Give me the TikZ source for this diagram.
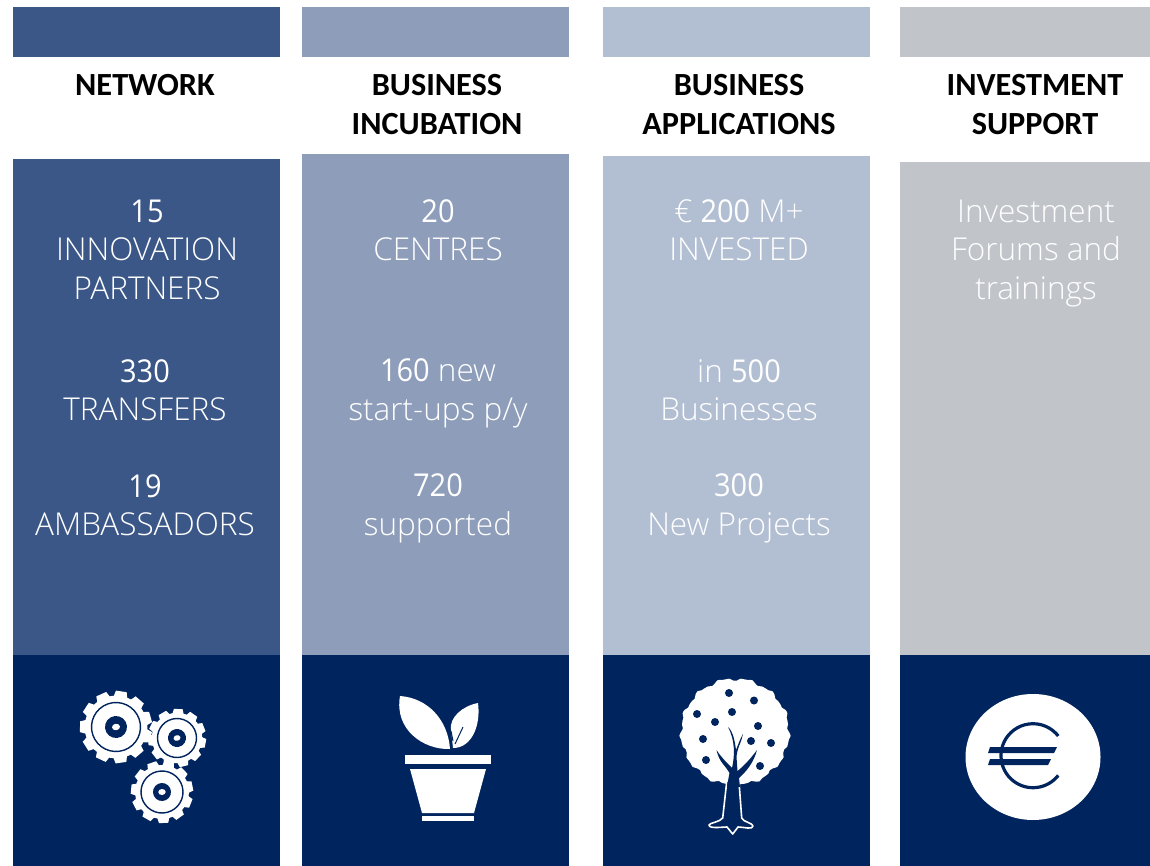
\documentclass[tikz,border=0pt]{standalone}
\usepackage{fontspec}
\setmainfont{Open Sans Light}
\newfontfamily\numfont{Open Sans}[FakeStretch=0.92]
\newfontfamily\headfont{Carlito}[BoldFont=Carlito Bold]
\definecolor{colA}{HTML}{3B5787}
\definecolor{colB}{HTML}{8D9DBA}
\definecolor{colC}{HTML}{B2BED2}
\definecolor{colD}{HTML}{C1C4C9}
\definecolor{navy}{HTML}{00245D}
\tikzset{
  body/.style={text=white,font=\fontsize{31.5}{38.5}\selectfont,align=center,inner sep=0pt,anchor=center},
  head/.style={text=black,font=\headfont\bfseries\fontsize{32.3}{38.5}\selectfont,align=center,inner sep=0pt,anchor=center}
}
\newcommand{\num}[1]{{\numfont #1}}
% gear: cx cy outer ring hub hole rotation
\newcommand{\gear}[7]{%
  \begin{scope}[shift={(#1,#2)},rotate=#7]
    \fill[white] (0,0) circle (#3*0.87);
    \foreach \a in {0,32.7,...,340}{
      \fill[white,rotate=\a] (-#3*0.2,#3*0.8) -- (-#3*0.15,#3) -- (#3*0.15,#3) -- (#3*0.2,#3*0.8) -- cycle;
    }
    \draw[navy,line width=1.4] (0,0) circle (#4);
    \fill[navy] (0,0) circle (#5);
    \fill[white] (0,0) ellipse (#6*1.25 and #6);
  \end{scope}}
\begin{document}
\begin{tikzpicture}[x=1pt,y=-1pt]
\useasboundingbox (0,0) rectangle (1150,866);
\fill[white] (0,0) rectangle (1150,866);
% columns
\fill[colA] (13,7) rectangle (280,57);
\fill[colA] (13,159) rectangle (280,655);
\fill[navy] (13,655) rectangle (280,866);
\fill[colB] (302,7) rectangle (569,57);
\fill[colB] (302,154) rectangle (569,655);
\fill[navy] (302,655) rectangle (569,866);
\fill[colC] (603,7) rectangle (870,57);
\fill[colC] (603,156) rectangle (870,655);
\fill[navy] (603,655) rectangle (870,866);
\fill[colD] (900,7) rectangle (1150,57);
\fill[colD] (900,162) rectangle (1150,655);
\fill[navy] (900,655) rectangle (1150,866);
% headings
\node[head] (h1) at (145,85) {NETWORK};
\node[head] (h2) at (437,104.5) {BUSINESS\\INCUBATION};
\node[head] (h3) at (739,104.5) {BUSINESS\\APPLICATIONS};
\node[head] (h4) at (1035,104.5) {INVESTMENT\\SUPPORT};
% body text
\node[body] (a1) at (147,249.5) {\num{15}\\INNOVATION\\PARTNERS};
\node[body] (a2) at (145,390) {\num{330}\\TRANSFERS};
\node[body] (a3) at (145,505) {\num{19}\\AMBASSADORS};
\node[body] (b1) at (438,230) {\num{20}\\CENTRES};
\node[body] (b2) at (438,393.5) {\num{160} new\\start-ups p/y};
\node[body] (b3) at (438,508.5) {\num{720}\\supported};
\node[body] (c1) at (739,230) {€ \num{200} M+\\INVESTED};
\node[body] (c2) at (739,390) {in \num{500}\\Businesses};
\node[body] (c3) at (739,508.5) {\num{300}\\New Projects};
\node[body] (d1) at (1036,253.5) {Investment\\Forums and\\trainings};
% gears
\gear{116}{727}{36}{24.5}{11}{3.2}{8}
\gear{177}{738}{29}{19.5}{9}{2.8}{14}
\gear{162}{792}{31}{21}{9}{3}{3}
% plant
\fill[white] (400,696) .. controls (428,698) and (448,720) .. (450,749)
  .. controls (424,750) and (394,730) .. (400,696) -- cycle;
\fill[white] (478,703) .. controls (462,706) and (449,718) .. (451,730)
  -- (453,748) .. controls (472,748) and (481,725) .. (478,703) -- cycle;
\draw[navy,line width=1] (463,727) -- (455,744);
\draw[navy,line width=1] (451,731) -- (453,741);
\fill[white] (405,755) rectangle (491,764);
\fill[white] (410,769) -- (486,769) -- (474,813) -- (422,813) -- cycle;
\fill[white] (422,816) rectangle (474,821);
% tree
\fill[white] plot[smooth cycle,domain=0:356,samples=90] ({735+(54+1.2*sin(\x*13)+0.9*sin(\x*29))*cos(\x)},{732+(53+1.2*sin(\x*13)+0.9*sin(\x*29))*sin(\x)});
\foreach \p in {(729,693),(754,700.5),(697,714),(732,712),(715,722),(758,726),(703,739),(751,741),(771,743),(706,760),(760,766)}
  \fill[navy] \p circle (4);
\draw[white,line width=1.6,fill=navy,line join=round] (726.7,782) -- (722.7,818)
  .. controls (720,822) and (709,823) .. (709,825)
  .. controls (709,829) and (722,827) .. (727,827)
  -- (732.7,834) -- (738,827)
  .. controls (744,827) and (753,830) .. (753,826)
  .. controls (753,823) and (743,822) .. (741.7,818)
  -- (739,782);
\fill[navy] (727,786) -- (729.5,773) .. controls (725,765) and (719,762) .. (716.5,750)
  .. controls (721,757) and (726,762) .. (732,768)
  .. controls (735,755) and (735,740) .. (728,727)
  .. controls (733,731) and (735,742) .. (736,750)
  .. controls (738,745) and (740,739) .. (743,734)
  .. controls (742,741) and (737,748) .. (736.5,757)
  -- (737.5,771)
  .. controls (745,765) and (751,758) .. (757,750)
  .. controls (754,762) and (746,772) .. (739,778)
  -- (740,787) -- cycle;
% euro
\fill[white] (1033,757) ellipse (67.5 and 63);
\draw[navy,line width=3.2] (1033,755.7) ++(38:32) arc[start angle=38,end angle=322,radius=32];
\fill[navy] (990,747) -- (1057,747) -- (1054,753) -- (988,753) -- cycle;
\fill[navy] (990,759) -- (1051,759) -- (1048,765) -- (988,765) -- cycle;
\end{tikzpicture}
\end{document}
